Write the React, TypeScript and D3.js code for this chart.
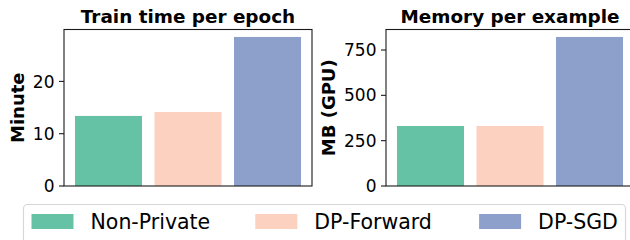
import React from 'react';
import * as d3 from 'd3';

const methods = ['Non-Private', 'DP-Forward', 'DP-SGD'];
const colors = ['#66c2a5', '#fcd1c0', '#8da0cb'];
const trainTime = [13.4, 14.15, 28.5];
const memory = [331, 331, 822];
const timeTicks = [0, 10, 20];
const memTicks = [0, 250, 500, 750];

const FONT = 'DejaVu Sans, sans-serif';
const top = 29.5;
const bottom = 186;
const axW = 248;

type PanelProps = {
  x0: number;
  title: string;
  ylabel: string;
  labelX: number;
  values: number[];
  ticks: number[];
};

const Panel = ({ x0, title, ylabel, labelX, values, ticks }: PanelProps) => {
  const xScale = d3.scaleBand<string>()
    .domain(methods)
    .range([x0, x0 + axW])
    .paddingInner(0.157)
    .paddingOuter(0.138);
  const yScale = d3.scaleLinear()
    .domain([0, (d3.max(values) as number) * 1.05])
    .range([bottom, top]);

  return (
    <g>
      {values.map((v, i) => (
        <rect key={i}
          x={xScale(methods[i])}
          y={yScale(v)}
          width={xScale.bandwidth()}
          height={bottom - yScale(v)}
          fill={colors[i]} />
      ))}
      <rect x={x0} y={top} width={axW} height={bottom - top}
        fill="none" stroke="#1a1a1a" strokeWidth={1.1} />
      {ticks.map(t => (
        <g key={t}>
          <line x1={x0 - 5} x2={x0} y1={yScale(t)} y2={yScale(t)} stroke="#1a1a1a" strokeWidth={1.1} />
          <text x={x0 - 9.5} y={yScale(t)} dy="0.36em" textAnchor="end"
            fontSize={17} fontFamily={FONT} fill="#000">{t}</text>
        </g>
      ))}
      <text x={x0 + axW / 2} y={22.5} textAnchor="middle" fontSize={18.4}
        fontWeight="bold" fontFamily={FONT}>{title}</text>
      <text transform={`translate(${labelX},${(top + bottom) / 2}) rotate(-90)`}
        dy="0.36em" textAnchor="middle" fontSize={18} fontWeight="bold"
        fontFamily={FONT}>{ylabel}</text>
    </g>
  );
};

export default function App() {
  return (
    <svg width={630} height={240}
      style={{ position: 'fixed', left: 0, top: 0, background: '#fff' }}>
      <Panel x0={64} title="Train time per epoch" ylabel="Minute" labelX={17.5}
        values={trainTime} ticks={timeTicks} />
      <Panel x0={386} title="Memory per example" ylabel="MB (GPU)" labelX={329}
        values={memory} ticks={memTicks} />
      <rect x={23.5} y={204.5} width={602} height={50} rx={4}
        fill="#fff" stroke="#d6d6d6" strokeWidth={1.1} />
      {methods.map((m, i) => (
        <g key={m} transform={`translate(${31.5 + i * 223.8},0)`}>
          <rect x={0} y={214} width={42} height={15} fill={colors[i]} />
          <text x={59} y={222} dy="0.36em" fontSize={20.5} fontFamily={FONT}>{m}</text>
        </g>
      ))}
    </svg>
  );
}
